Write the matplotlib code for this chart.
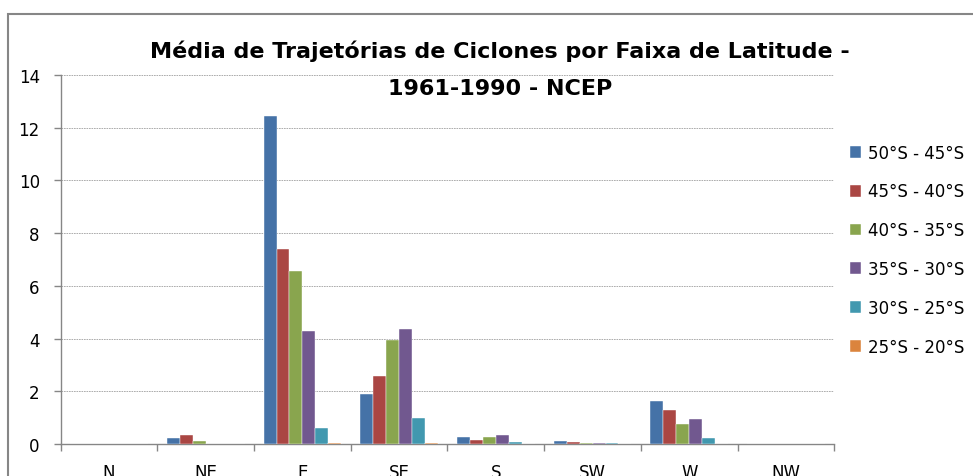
import matplotlib
matplotlib.use("Agg")
import matplotlib.pyplot as plt
import numpy as np
from matplotlib.patches import Rectangle

plt.rcParams['font.family'] = ['DejaVu Sans']

categories = ["N", "NE", "E", "SE", "S", "SW", "W", "NW"]
series_names = ["50°S - 45°S", "45°S - 40°S", "40°S - 35°S",
                "35°S - 30°S", "30°S - 25°S", "25°S - 20°S"]
s50_45 = [0.0, 0.22, 12.43, 1.90, 0.28, 0.12, 1.64, 0.0]
s45_40 = [0.0, 0.33, 7.41, 2.57, 0.15, 0.09, 1.30, 0.0]
s40_35 = [0.0, 0.11, 6.55, 3.93, 0.28, 0.05, 0.74, 0.0]
s35_30 = [0.0, 0.0, 4.29, 4.36, 0.36, 0.05, 0.93, 0.0]
s30_25 = [0.0, 0.0, 0.60, 0.99, 0.09, 0.05, 0.24, 0.0]
s25_20 = [0.0, 0.0, 0.04, 0.04, 0.0, 0.0, 0.0, 0.0]
series = [s50_45, s45_40, s40_35, s35_30, s30_25, s25_20]
colors = ["#4572A7", "#AA4643", "#89A54E", "#71588F", "#4198AF", "#DB843D"]
yticks = [0, 2, 4, 6, 8, 10, 12, 14]

W, H = 973, 477
fig = plt.figure(figsize=(W / 100, H / 100), dpi=100)
ax = fig.add_axes([60.7 / W, 1 - 445 / H, (834.3 - 60.7) / W, (445 - 76) / H])

x = np.arange(len(categories))
bw = 0.134
for i, (vals, name, c) in enumerate(zip(series, series_names, colors)):
    ax.bar(x + (i - 2.5) * bw, vals, width=bw, color=c, label=name,
           edgecolor="white", linewidth=0.3, zorder=3)

ax.set_xlim(-0.5, len(categories) - 0.5)
ax.set_ylim(0, 14)
ax.set_yticks(yticks)
ax.set_yticklabels([str(v) for v in yticks], fontsize=12)
ax.set_xticks(x)
ax.set_xticklabels(categories, fontsize=12)
ax.set_xticks(np.arange(len(categories) + 1) - 0.5, minor=True)
ax.tick_params(axis='x', which='major', length=0, pad=14)
ax.tick_params(axis='x', which='minor', length=5, color="#868686", width=1)
ax.tick_params(axis='y', length=5, color="#868686", width=1, pad=10)
ax.yaxis.grid(True, linestyle=(0, (2, 1)), color="#a0a0a0", linewidth=0.6, zorder=0)
for s in ["top", "right"]:
    ax.spines[s].set_visible(False)
for s in ["left", "bottom"]:
    ax.spines[s].set_color("#868686")
    ax.spines[s].set_linewidth(1)

fig.text(500 / W, 1 - 51 / H, "Média de Trajetórias de Ciclones por Faixa de Latitude -",
         ha="center", va="center", fontsize=16, fontweight="bold")
fig.text(500 / W, 1 - 89 / H, "1961-1990 - NCEP",
         ha="center", va="center", fontsize=16, fontweight="bold")

leg = fig.legend(loc="upper left", bbox_to_anchor=(843 / W, 1 - 138 / H),
                 frameon=False, fontsize=12, handlelength=0.7, handleheight=0.7,
                 handletextpad=0.4, labelspacing=1.25, borderaxespad=0)

fig.patches.append(Rectangle((8 / W, -0.1), 1.2, 1.1 - 15 / H, transform=fig.transFigure,
                             fill=False, edgecolor="#868686", linewidth=1.5))

fig.savefig("out.png", dpi=100)
